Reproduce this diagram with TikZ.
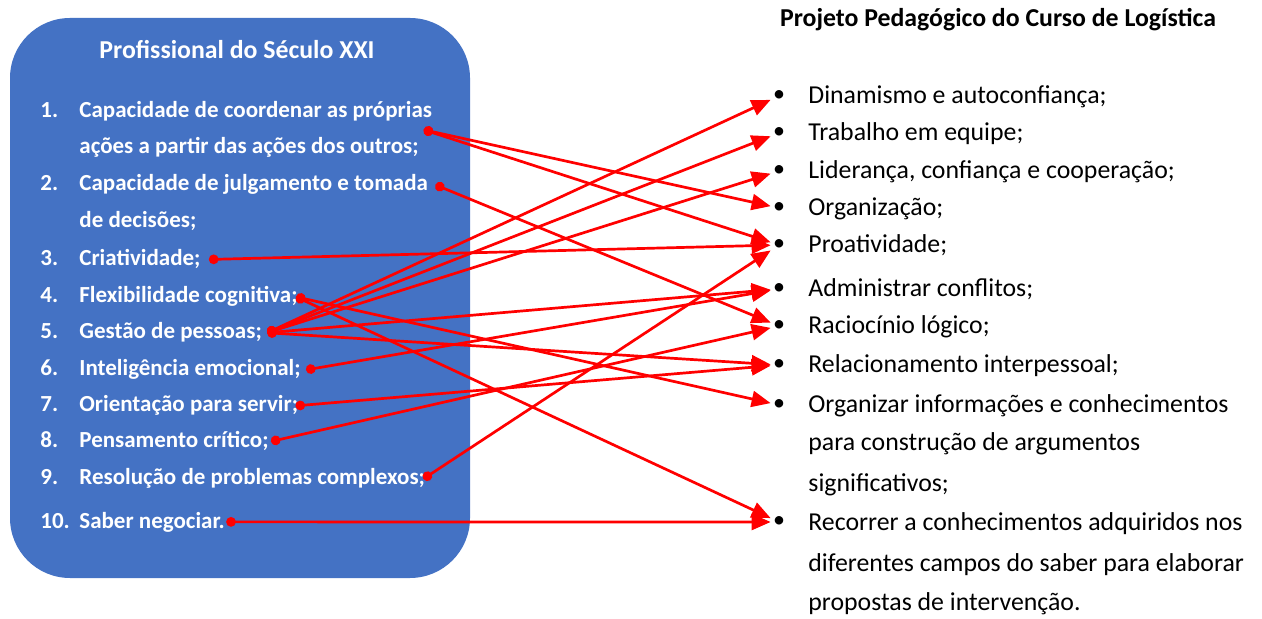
\documentclass[tikz,border=0pt]{standalone}
\usepackage{fontspec}
\setmainfont{Carlito}
\usetikzlibrary{arrows.meta,calc}
\definecolor{azulcaixa}{HTML}{4472C4}
\tikzset{
	competencia/.style={anchor=base west,inner sep=0pt,text=white,font=\bfseries\fontsize{11.5}{13}\selectfont},
	projeto/.style={anchor=base west,inner sep=0pt,font=\fontsize{12.9}{14}\selectfont},
	marca/.style={inner sep=1pt,font=\fontsize{12}{14}\selectfont},
	liga/.style={draw=red,line width=1.35pt,{Circle[length=4.8pt]}-{Triangle[length=9.5pt,width=8pt]}}
}

\begin{document}
\begin{tikzpicture}[x=0.5pt,y=-0.5pt]
	%\draw[help lines] (0,0) grid (1262,619);
	\useasboundingbox (0,0) rectangle (1262,619);
	\fill[azulcaixa,rounded corners=30pt] (10,18) rectangle (470,578);
	
	\node[text=white,font=\bfseries\fontsize{12.9}{14}\selectfont] (titcaixa) at (237,50) {Profissional do Século XXI};
	\node[competencia] (n1) at (40,118) {1.};   \node[competencia] (p1) at (79,118) {Capacidade de coordenar as próprias};
	\node[competencia] (p1b) at (79,154) {ações a partir das ações dos outros;};
	\node[competencia] (n2) at (40,191) {2.};   \node[competencia] (p2) at (79,191) {Capacidade de julgamento e tomada};
	\node[competencia] (p2b) at (79,228) {de decisões;};
	\node[competencia] (n3) at (40,266) {3.};   \node[competencia] (p3) at (79,266) {Criatividade;};
	\node[competencia] (n4) at (40,303) {4.};   \node[competencia] (p4) at (79,303) {Flexibilidade cognitiva;};
	\node[competencia] (n5) at (40,339) {5.};   \node[competencia] (p5) at (79,339) {Gestão de pessoas;};
	\node[competencia] (n6) at (40,376) {6.};   \node[competencia] (p6) at (79,376) {Inteligência emocional;};
	\node[competencia] (n7) at (40,412) {7.};   \node[competencia] (p7) at (79,412) {Orientação para servir;};
	\node[competencia] (n8) at (40,448) {8.};   \node[competencia] (p8) at (79,448) {Pensamento crítico;};
	\node[competencia] (n9) at (40,485) {9.};   \node[competencia] (p9) at (79,485) {Resolução de problemas complexos;};
	\node[competencia] (n10) at (40,528) {10.}; \node[competencia] (p10) at (79,528) {Saber negociar.};
	
	\node[font=\bfseries\fontsize{12.9}{14}\selectfont] (titprojeto) at (998,20) {Projeto Pedagógico do Curso de Logística};
	\node[marca] (b1) at (779,96) {\textbullet};  \node[projeto] (c1) at (808,104) {Dinamismo e autoconfiança;};
	\node[marca] (b2) at (779,133) {\textbullet}; \node[projeto] (c2) at (808,141) {Trabalho em equipe;};
	\node[marca] (b3) at (779,171) {\textbullet}; \node[projeto] (c3) at (808,179) {Liderança, confiança e cooperação;};
	\node[marca] (b4) at (779,208) {\textbullet}; \node[projeto] (c4) at (808,216) {Organização;};
	\node[marca] (b5) at (779,245) {\textbullet}; \node[projeto] (c5) at (808,253) {Proatividade;};
	\node[marca] (b6) at (779,289) {\textbullet}; \node[projeto] (c6) at (808,297) {Administrar conflitos;};
	\node[marca] (b7) at (779,326) {\textbullet}; \node[projeto] (c7) at (808,334) {Raciocínio lógico;};
	\node[marca] (b8) at (779,365) {\textbullet}; \node[projeto] (c8) at (808,373) {Relacionamento interpessoal;};
	\node[marca] (b9) at (779,405) {\textbullet}; \node[projeto] (c9) at (808,413) {Organizar informações e conhecimentos};
	\node[projeto] (c9b) at (808,451) {para construção de argumentos};
	\node[projeto] (c9c) at (808,491) {significativos;};
	\node[marca] (b10) at (779,522) {\textbullet}; \node[projeto] (c10) at (808,530) {Recorrer a conhecimentos adquiridos nos};
	\node[projeto] (c10b) at (808,571) {diferentes campos do saber para elaborar};
	\node[projeto] (c10c) at (808,610) {propostas de intervenção.};
	
	%pontos de saida
	\coordinate (s1) at ($(p1.east)!.5!(p1b.east)+(-2,0)$);
	\coordinate (s2) at ($(p2.east)+(7,0)$);
	\coordinate (s3) at ($(p3.east)+(8,0)$);
	\coordinate (s4) at ($(p4.east)+(-2,0)$);
	\coordinate (s5) at ($(p5.east)+(5,0)$);
	\coordinate (s6) at ($(p6.east)+(5,0)$);
	\coordinate (s7) at ($(p7.east)+(-3,0)$);
	\coordinate (s8) at ($(p8.east)+(2,0)$);
	\coordinate (s9) at ($(p9.east)+(-2,0)$);
	\coordinate (s10) at ($(p10.east)+(1,0)$);
	
	\draw[liga] (s1) -- (b4);
	\draw[liga] (s1) -- (b5);
	\draw[liga] (s2) -- (b7);
	\draw[liga] (s3) -- (b5);
	\draw[liga] (s4) -- (b9);
	\draw[liga] (s4) -- (b10);
	\draw[liga] (s5) -- (b1);
	\draw[liga] (s5) -- (b2);
	\draw[liga] (s5) -- (b3);
	\draw[liga] (s5) -- (b6);
	\draw[liga] (s5) -- (b8);
	\draw[liga] (s6) -- (b6);
	\draw[liga] (s7) -- (b8);
	\draw[liga] (s8) -- (b7);
	\draw[liga] (s9) -- (b5);
	\draw[liga] (s10) -- (b10);
\end{tikzpicture}
\end{document}
